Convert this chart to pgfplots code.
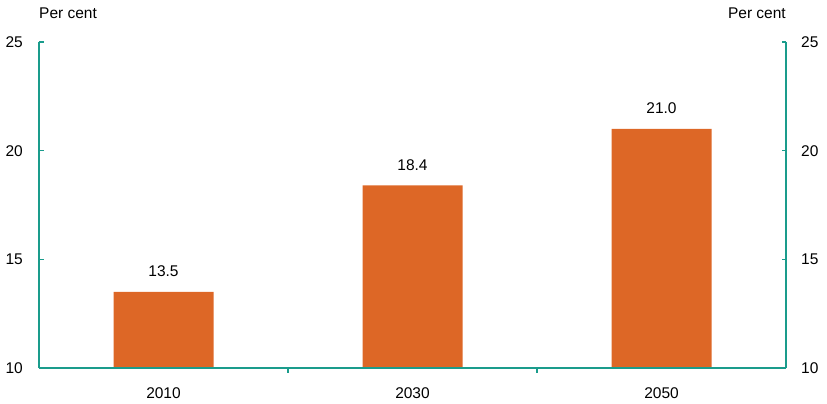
\documentclass[border=0pt]{standalone}
\usepackage{pgfplots}
\pgfplotsset{compat=1.18}
\usepackage{fontspec}
\setmainfont{Liberation Sans}
\definecolor{axteal}{HTML}{1A9C8C}
\definecolor{barorange}{HTML}{DD6726}
\newcommand{\lblfont}{\fontsize{15.5}{18}\selectfont}
\begin{document}
\begin{tikzpicture}
\pgfplotsset{
  common/.style={
    scale only axis,
    width=747pt, height=326pt,
    xmin=-0.5, xmax=2.5,
    ymin=10, ymax=25,
    ytick={10,15,20,25},
    tick align=inside,
    major tick length=4.5pt,
    tick style={axteal, line width=1.3pt},
    axis line style={axteal, line width=1.2pt, -},
    /pgf/number format/assume math mode=true,
    ticklabel style={font=\lblfont, inner sep=0pt},
    clip=false,
  }
}
\begin{axis}[
  common,
  name=ax,
  axis x line*=bottom,
  axis y line*=left,
  axis on top,
  xtick={0.5,1.5},
  xticklabels={},
  extra x ticks={0,1,2},
  extra x tick labels={2010,2030,2050},
  extra x tick style={major tick length=0pt,
    xticklabel style={anchor=center, yshift=-25pt}},
  yticklabel style={anchor=east, xshift=-16pt},
  ybar, bar width=100pt,
  nodes near coords,
  nodes near coords style={font=\lblfont, black, anchor=base, inner sep=0pt, yshift=15pt,
    /pgf/number format/.cd, fixed, fixed zerofill, precision=1},
]
\addplot[fill=barorange, draw=none] coordinates {(0,13.5) (1,18.4) (2,21.0)};
\node[anchor=base west, inner sep=0pt, font=\lblfont] at ([yshift=23pt]axis description cs:0,1) {Per cent};
\node[anchor=base east, inner sep=0pt, font=\lblfont] at ([yshift=23pt]axis description cs:1,1) {Per cent};
\end{axis}
\begin{axis}[
  common,
  axis x line=none,
  axis y line*=right,
  xtick=\empty,
  yticklabel style={anchor=west, xshift=15pt},
]
\addplot[draw=none] coordinates {(0,10)};
\end{axis}
\path ([xshift=-39pt,yshift=-36pt]ax.south west) rectangle ([xshift=41pt,yshift=42pt]ax.north east);
\end{tikzpicture}
\end{document}
